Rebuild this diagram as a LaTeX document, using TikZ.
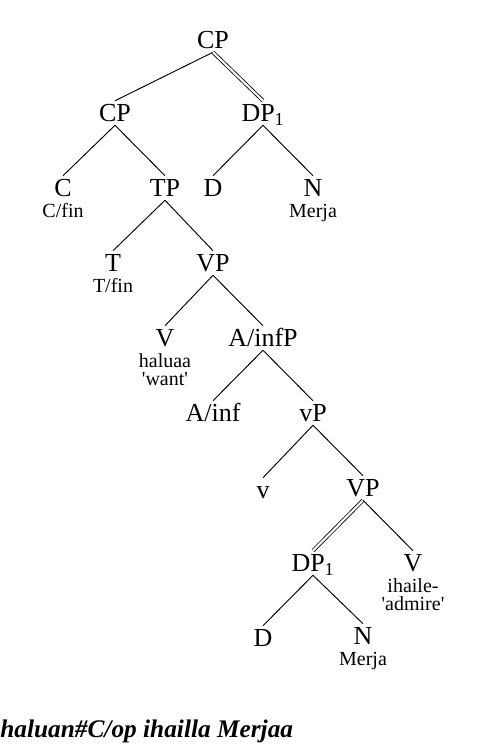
\documentclass[tikz,border=0pt]{standalone}
\usepackage{fontspec}
\setmainfont{Liberation Serif}
\tikzset{
  cat/.style={font=\fontsize{19.5}{20}\selectfont, inner xsep=0pt, inner ysep=2.5pt,
    text height=13pt, text depth=0pt},
  lex/.style={font=\fontsize{15}{15}\selectfont, inner sep=0pt, anchor=base},
  br/.style={line width=0.7pt},
  dbr/.style={double, double distance=1.6pt, line width=0.6pt}
}
\begin{document}
\begin{tikzpicture}[x=0.75pt,y=-0.75pt]
\useasboundingbox (0,0) rectangle (500,750);
% categories
\node (cp) [cat] at (213,40) {CP};
\node (cpl) [cat] at (115,113) {CP};
\node (dp) [cat] at (263,113) {DP\textsubscript{1}};
\node (c) [cat] at (63,188) {C};
\node (tp) [cat] at (165,188) {TP};
\node (d) [cat] at (213,188) {D};
\node (n) [cat] at (313,188) {N};
\node (t) [cat] at (113,263) {T};
\node (vp) [cat] at (213,263) {VP};
\node (v) [cat] at (165,338) {V};
\node (ap) [cat] at (263,338) {A/infP};
\node (a) [cat] at (213,413) {A/inf};
\node (lvp) [cat] at (313,413) {vP};
\node (lv) [cat] at (263,490) {v};
\node (vpb) [cat] at (363,488) {VP};
\node (dpb) [cat] at (313,563) {DP\textsubscript{1}};
\node (vb) [cat] at (413,563) {V};
\node (db) [cat] at (263,638) {D};
\node (nb) [cat] at (363,636) {N};
% words
\node (cfin) [lex] at (63,217) {C/fin};
\node (mer) [lex] at (313,217) {Merja};
\node (tfin) [lex] at (113,292) {T/fin};
\node (hal) [lex] at (165,367) {haluaa};
\node (want) [lex] at (165,385) {\textquotesingle want\textquotesingle};
\node (iha) [lex] at (413,592) {ihaile-};
\node (adm) [lex] at (413,610) {\textquotesingle admire\textquotesingle};
\node (merb) [lex] at (363,665) {Merja};
% branches
\draw[br] (cp.south) -- (cpl.north);
\draw[dbr] (cp.south) -- (dp.north);
\draw[br] (cpl.south) -- (c.north);
\draw[br] (cpl.south) -- (tp.north);
\draw[br] (dp.south) -- (d.north);
\draw[br] (dp.south) -- (n.north);
\draw[br] (tp.south) -- (t.north);
\draw[br] (tp.south) -- (vp.north);
\draw[br] (vp.south) -- (v.north);
\draw[br] (vp.south) -- (ap.north);
\draw[br] (ap.south) -- (a.north);
\draw[br] (ap.south) -- (lvp.north);
\draw[br] (lvp.south) -- (lv.north);
\draw[br] (lvp.south) -- (vpb.north);
\draw[dbr] (vpb.south) -- (dpb.north);
\draw[br] (vpb.south) -- (vb.north);
\draw[br] (dpb.south) -- (db.north);
\draw[br] (dpb.south) -- (nb.north);
% gloss
\node (gl) [anchor=base west, inner sep=0pt,
  font=\fontsize{19}{19}\selectfont\bfseries\itshape] at (0,737)
  {haluan\#C/op ihailla Merjaa};
\end{tikzpicture}
\end{document}
